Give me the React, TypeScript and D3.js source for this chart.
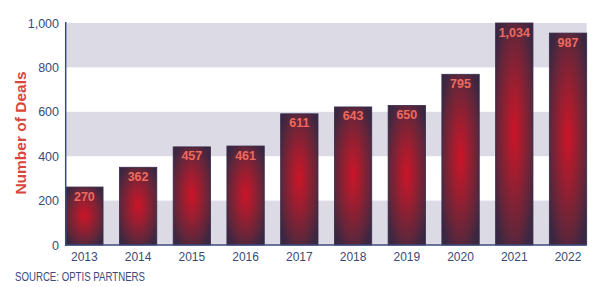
import React from "react";
import * as d3 from "d3";

const years = ["2013", "2014", "2015", "2016", "2017", "2018", "2019", "2020", "2021", "2022"];
const deals = [270, 362, 457, 461, 611, 643, 650, 795, 1034, 987];
const tickValues = [0, 200, 400, 600, 800, 1000];
const bandRanges = [[0, 200], [400, 600], [800, 1000]];

const W = 600, H = 287;
const left = 65.7, right = 586.7, top = 23, bottom = 245;
const navy = "#3b4a78";

export default function App() {
  const x = d3.scaleBand<string>().domain(years).range([left, right]).paddingInner(0.305).paddingOuter(0);
  // bars in the source are scaled so the largest value reaches the top gridline
  const yBar = d3.scaleLinear().domain([0, d3.max(deals) as number]).range([bottom, top]);
  const yTick = d3.scaleLinear().domain([0, 1000]).range([bottom, top]);
  const fmt = d3.format(",");
  const font = "'Liberation Sans', Arial, Helvetica, sans-serif";

  return (
    <svg width={W} height={H} style={{ position: "absolute", left: 0, top: 0, background: "#fff" }}>
      <defs>
        <radialGradient id="barGrad" cx="0.5" cy="0.49" r="0.62" fx="0.5" fy="0.49">
          <stop offset="0%" stopColor="#cc1428" />
          <stop offset="35%" stopColor="#9c1e30" />
          <stop offset="75%" stopColor="#62263a" />
          <stop offset="100%" stopColor="#3a2742" />
        </radialGradient>
      </defs>
      {bandRanges.map(([a, b], i) => (
        <rect key={i} x={left} width={right - left} y={yTick(b)} height={yTick(a) - yTick(b)} fill="#dcdbe5" />
      ))}
      {years.map((yr, i) => (
        <rect
          key={yr}
          x={x(yr)}
          width={x.bandwidth()}
          y={yBar(deals[i])}
          height={bottom - yBar(deals[i])}
          fill="url(#barGrad)"
          stroke="#3a2a48"
          strokeWidth={0.8}
        />
      ))}
      {years.map((yr, i) => (
        <text
          key={"l" + yr}
          x={(x(yr) as number) + x.bandwidth() / 2}
          y={yBar(deals[i]) + 13.5}
          textAnchor="middle"
          fontFamily={font}
          fontWeight="bold"
          fontSize={12.5}
          fill="#ec6a5e"
        >
          {fmt(deals[i])}
        </text>
      ))}
      <line x1={left} x2={left} y1={top - 1} y2={bottom + 1} stroke={navy} strokeWidth={1.5} />
      <line x1={left} x2={right} y1={bottom} y2={bottom} stroke={navy} strokeWidth={1.5} />
      {tickValues.map((t) => (
        <text key={t} x={59} y={yTick(t) + 4.5} textAnchor="end" fontFamily={font} fontSize={12.5} fill={navy}>
          {fmt(t)}
        </text>
      ))}
      {years.map((yr) => (
        <text
          key={"x" + yr}
          x={(x(yr) as number) + x.bandwidth() / 2}
          y={260.5}
          textAnchor="middle"
          fontFamily={font}
          fontSize={12}
          fill={navy}
        >
          {yr}
        </text>
      ))}
      <text
        transform={`translate(25.5, ${(top + bottom) / 2 - 1}) rotate(-90)`}
        textAnchor="middle"
        fontFamily={font}
        fontWeight="bold"
        fontSize={15.5}
        fill="#d8463c"
      >
        Number of Deals
      </text>
      <text
        x={15}
        y={280.5}
        fontFamily={font}
        fontSize={13}
        textLength={130}
        lengthAdjust="spacingAndGlyphs"
        fill={navy}
      >
        SOURCE: OPTIS PARTNERS
      </text>
    </svg>
  );
}
